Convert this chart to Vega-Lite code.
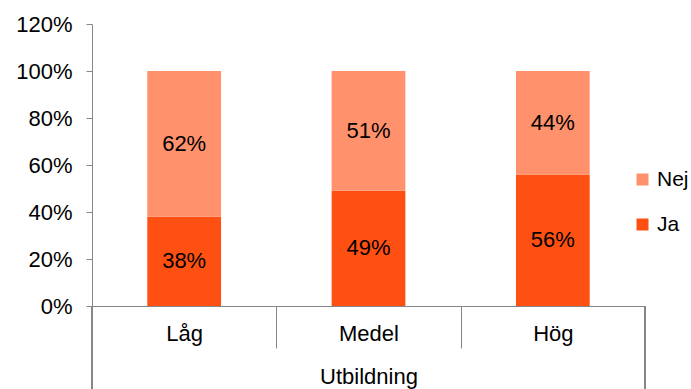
{
  "$schema": "https://vega.github.io/schema/vega-lite/v6.json",
  "width": 553,
  "height": 282,
  "autosize": {"type": "none"},
  "padding": {"left": 92, "top": 24, "right": 46, "bottom": 83},
  "config": {"view": {"stroke": null}, "font": "Liberation Sans"},
  "data": {
    "values": [
      {"utbildning": "Låg", "svar": "Ja", "andel": 0.38},
      {"utbildning": "Låg", "svar": "Nej", "andel": 0.62},
      {"utbildning": "Medel", "svar": "Ja", "andel": 0.49},
      {"utbildning": "Medel", "svar": "Nej", "andel": 0.51},
      {"utbildning": "Hög", "svar": "Ja", "andel": 0.56},
      {"utbildning": "Hög", "svar": "Nej", "andel": 0.44}
    ]
  },
  "layer": [
    {
      "layer": [
        {
          "mark": {"type": "bar", "width": {"band": 0.4}},
          "encoding": {
            "x": {
              "field": "utbildning", "type": "nominal", "sort": ["Låg", "Medel", "Hög"],
              "scale": {"paddingInner": 0, "paddingOuter": 0},
              "title": "Utbildning",
              "axis": {
                "labelAngle": 0, "tickBand": "extent", "ticks": true, "tickSize": 42,
                "tickColor": "#868686", "domainColor": "#868686",
                "labelFontSize": 22, "labelColor": "#000000", "labelPadding": -25,
                "titleFontSize": 22, "titleFontWeight": "normal", "titleColor": "#000000", "titlePadding": 18
              }
            },
            "y": {
              "field": "andel", "type": "quantitative", "stack": "zero",
              "scale": {"domain": [0, 1.2], "nice": false},
              "axis": {
                "values": [0, 0.2, 0.4, 0.6, 0.8, 1.0, 1.2], "format": ".0%", "grid": false,
                "title": null, "domainColor": "#868686", "tickColor": "#868686", "tickSize": 6,
                "labelFontSize": 22, "labelColor": "#000000", "labelPadding": 14
              }
            },
            "color": {
              "field": "svar", "type": "nominal",
              "scale": {"domain": ["Nej", "Ja"], "range": ["#FF916D", "#FF5013"]},
              "legend": {
                "title": null, "orient": "none", "legendX": 540, "legendY": 145,
                "symbolType": "square", "symbolSize": 144, "symbolStrokeWidth": 0,
                "labelFontSize": 21, "labelColor": "#000000", "rowPadding": 23, "labelOffset": 4
              }
            },
            "order": {"field": "svar", "sort": "ascending"}
          }
        },
        {
          "mark": {"type": "text", "fontSize": 22, "color": "#000000"},
          "encoding": {
            "x": {"field": "utbildning", "type": "nominal", "sort": ["Låg", "Medel", "Hög"]},
            "y": {"field": "andel", "type": "quantitative", "stack": "zero", "bandPosition": 0.5},
            "text": {"field": "andel", "type": "quantitative", "format": ".0%"},
            "order": {"field": "svar", "sort": "ascending"}
          }
        }
      ]
    },
    {
      "layer": [
        {
          "mark": {"type": "rule", "color": "#868686", "clip": false},
          "encoding": {
            "x": {"datum": 0, "type": "quantitative", "scale": {"domain": [0, 3], "nice": false}, "axis": null},
            "y": {"datum": 0, "type": "quantitative", "scale": {"domain": [0, 1.2], "nice": false}, "axis": null},
            "y2": {"datum": -0.355}
          }
        },
        {
          "mark": {"type": "rule", "color": "#868686", "clip": false},
          "encoding": {
            "x": {"datum": 3, "type": "quantitative"},
            "y": {"datum": 0, "type": "quantitative"},
            "y2": {"datum": -0.355}
          }
        }
      ]
    }
  ],
  "resolve": {"scale": {"x": "independent", "y": "independent"}, "axis": {"x": "independent", "y": "independent"}}
}
